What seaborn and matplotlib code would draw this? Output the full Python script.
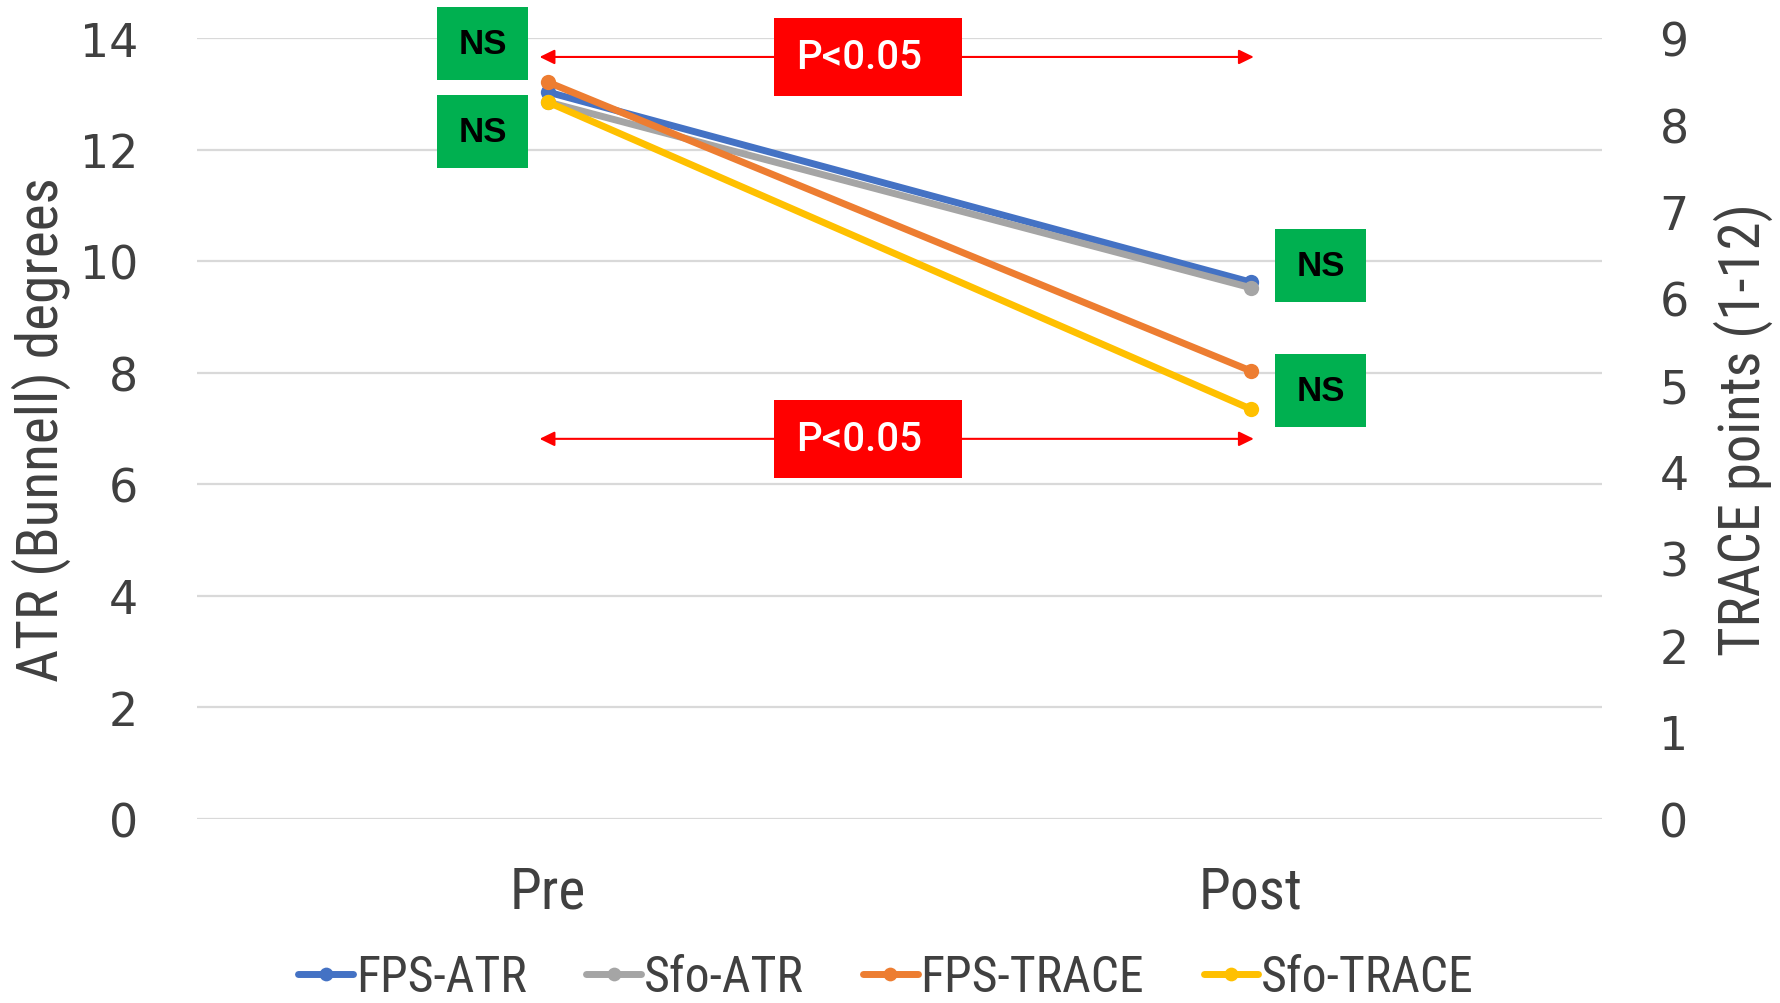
import numpy as np
import pandas as pd
import matplotlib
matplotlib.use("Agg")
import matplotlib.pyplot as plt
from matplotlib import font_manager as fm
from matplotlib.font_manager import FontProperties
from matplotlib.patches import Rectangle, FancyArrowPatch
from matplotlib.lines import Line2D
import seaborn as sns

# ---------------- data ----------------
times = ["Pre", "Post"]
fps_atr = [13.03, 9.62]
sfo_atr = [12.85, 9.52]
fps_trace = [8.49, 5.16]
sfo_trace = [8.26, 4.72]

atr_names = ["FPS-ATR", "Sfo-ATR"]
trace_names = ["FPS-TRACE", "Sfo-TRACE"]
colors = {"FPS-ATR": "#4472C4", "Sfo-ATR": "#A5A5A5",
          "FPS-TRACE": "#ED7D31", "Sfo-TRACE": "#FFC000"}

left_ticks = [0, 2, 4, 6, 8, 10, 12, 14]
right_ticks = [0, 1, 2, 3, 4, 5, 6, 7, 8, 9]

left_label = "ATR (Bunnell) degrees"
right_label = "TRACE points (1-12)"

ns_label = "NS"
p_label = "P<0.05"

df_atr = pd.DataFrame({
    "time": times * 2,
    "value": fps_atr + sfo_atr,
    "series": [atr_names[0]] * 2 + [atr_names[1]] * 2,
})
df_trace = pd.DataFrame({
    "time": times * 2,
    "value": fps_trace + sfo_trace,
    "series": [trace_names[0]] * 2 + [trace_names[1]] * 2,
})

# ---------------- fonts ----------------
sns.set_theme(style="white")
plt.rcParams["font.family"] = ["DejaVu Sans"]


def _is_regular(f):
    w = f.weight
    return (w in (400, "normal", "regular", "book")) and f.style == "normal"


def pick_condensed():
    prefs = ["Liberation Sans Narrow", "Roboto Condensed", "Open Sans Condensed",
             "Noto Sans", "Open Sans", "Roboto", "DejaVu Sans", "Lato", "Inter"]
    cands = []
    for f in fm.fontManager.ttflist:
        st = str(f.stretch)
        if not _is_regular(f):
            continue
        if ("Narrow" in f.name or "Condensed" in f.name
                or st in ("condensed", "semi-condensed", "extra-condensed")):
            cands.append(f)
    for p in prefs:
        for f in cands:
            if f.name == p:
                return f.fname
    if cands:
        return cands[0].fname
    return None


cpath = pick_condensed()


def cond_fp(size):
    if cpath:
        return FontProperties(fname=cpath, size=size)
    return FontProperties(family="Liberation Sans", size=size)


# ---------------- figure ----------------
fig = plt.figure(figsize=(17.8, 10.04), dpi=100)
ax = fig.add_axes([196.5 / 1780, 1 - 819.5 / 1004, 1406 / 1780, 780.5 / 1004])
ax2 = ax.twinx()

grid_c = "#D9D9D9"
lw = 5.0
ms = 11.0
txt_c = "#404040"

sns.lineplot(data=df_atr, x="time", y="value", hue="series", palette=colors,
             hue_order=atr_names, marker="o", sort=False, legend=False, ax=ax,
             linewidth=lw, markersize=ms, markeredgewidth=0)
sns.lineplot(data=df_trace, x="time", y="value", hue="series", palette=colors,
             hue_order=trace_names, marker="o", sort=False, legend=False, ax=ax2,
             linewidth=lw, markersize=ms, markeredgewidth=0)
for a in (ax, ax2):
    for ln in a.get_lines():
        ln.set_linewidth(lw)
        ln.set_markersize(ms)
        ln.set_markeredgewidth(0)
        ln.set_zorder(3)
        ln.set_solid_capstyle("round")

ax.set_xlim(-0.5, 1.5)
ax.set_ylim(0, 14)
ax2.set_ylim(0, 9)
ax.set_yticks(left_ticks)
ax2.set_yticks(right_ticks)
ax.set_xticks([0, 1])
ax.set_xticklabels(times, fontproperties=cond_fp(38))

for a in (ax, ax2):
    for s in a.spines.values():
        s.set_visible(False)
    a.grid(False)

for t in left_ticks:
    ax.axhline(t, color=grid_c, lw=1.6, zorder=0)

ax.tick_params(axis="y", length=0, pad=42, labelsize=33, labelcolor=txt_c)
ax2.tick_params(axis="y", length=0, pad=41, labelsize=33, labelcolor=txt_c)
ax.tick_params(axis="x", length=0, pad=33, labelcolor=txt_c)

ax.set_xlabel("")
ylab_l = ax.set_ylabel(left_label, fontproperties=cond_fp(40), color=txt_c)
ylab_r = ax2.set_ylabel(right_label, fontproperties=cond_fp(40), color=txt_c)
ax.yaxis.set_label_coords(-0.089, 0.5)
ax2.yaxis.set_label_coords(1.079, 0.5)

ax2.set_zorder(ax.get_zorder() + 1)
ax2.patch.set_visible(False)

# ---------------- annotations ----------------
green = "#00B050"
red = "#FF0000"
ns_boxes = [(-0.158, 13.25), (-0.158, 11.67), (1.034, 9.26), (1.034, 7.02)]
ns_w, ns_h = 0.13, 1.31
for (x0, y0) in ns_boxes:
    ax2.add_patch(Rectangle((x0, y0 * 9 / 14), ns_w, ns_h * 9 / 14,
                            facecolor=green, edgecolor="none", clip_on=False, zorder=5))
    ax2.text(x0 + ns_w / 2, (y0 + ns_h / 2) * 9 / 14, ns_label, ha="center", va="center",
             fontsize=25, fontweight="bold", family="Liberation Sans", color="black",
             zorder=6, clip_on=False)

arrow_y = [13.66, 6.81]
p_boxes = [(0.321, 12.96), (0.321, 6.11)]
p_w, p_h = 0.268, 1.40
for ay, (x0, y0) in zip(arrow_y, p_boxes):
    arr = FancyArrowPatch((-0.012, ay * 9 / 14), (1.004, ay * 9 / 14),
                          arrowstyle="<|-|>,head_length=0.45,head_width=0.22",
                          mutation_scale=20, color=red, lw=1.5, clip_on=False, zorder=4,
                          shrinkA=0, shrinkB=0)
    ax2.add_patch(arr)
    ax2.add_patch(Rectangle((x0, y0 * 9 / 14), p_w, p_h * 9 / 14,
                            facecolor=red, edgecolor="none", clip_on=False, zorder=5))
    ax2.text(x0 + p_w / 2 - 0.012, (y0 + p_h / 2) * 9 / 14, p_label, ha="center", va="center",
             fontsize=29, family="Roboto", fontweight="medium", color="white",
             zorder=6, clip_on=False)

# ---------------- legend ----------------
handles = [Line2D([0], [0], color=colors[n], lw=lw, marker="o", markersize=ms * 0.9,
                  markeredgewidth=0) for n in atr_names + trace_names]


def make_legend(size):
    return fig.legend(handles, atr_names + trace_names, loc="center", ncol=4,
                      bbox_to_anchor=(886 / 1780, 1 - 978 / 1004), frameon=False,
                      prop=cond_fp(size), handlelength=1.1,
                      handletextpad=0.05, columnspacing=1.2, labelcolor=txt_c)


leg = make_legend(32)

# ---------------- fit condensed text sizes to reference extents ----------------
fig.canvas.draw()
r = fig.canvas.get_renderer()


def fit(artist, target, vertical=False):
    bb = artist.get_window_extent(r)
    cur = bb.height if vertical else bb.width
    if cur > 0:
        artist.set_fontsize(artist.get_fontsize() * target / cur)


fit(ylab_l, 505, vertical=True)
fit(ylab_r, 452, vertical=True)
lab0 = ax.get_xticklabels()[0]
bb = lab0.get_window_extent(r)
xs = 38 * 76 / bb.width if bb.width > 0 else 38
ax.set_xticklabels(times, fontproperties=cond_fp(xs))
lw_leg = leg.get_window_extent(r).width
leg.remove()
leg = make_legend(32 * 1215 / lw_leg if lw_leg > 0 else 32)

fig.savefig("out.png", dpi=100, facecolor="white")
